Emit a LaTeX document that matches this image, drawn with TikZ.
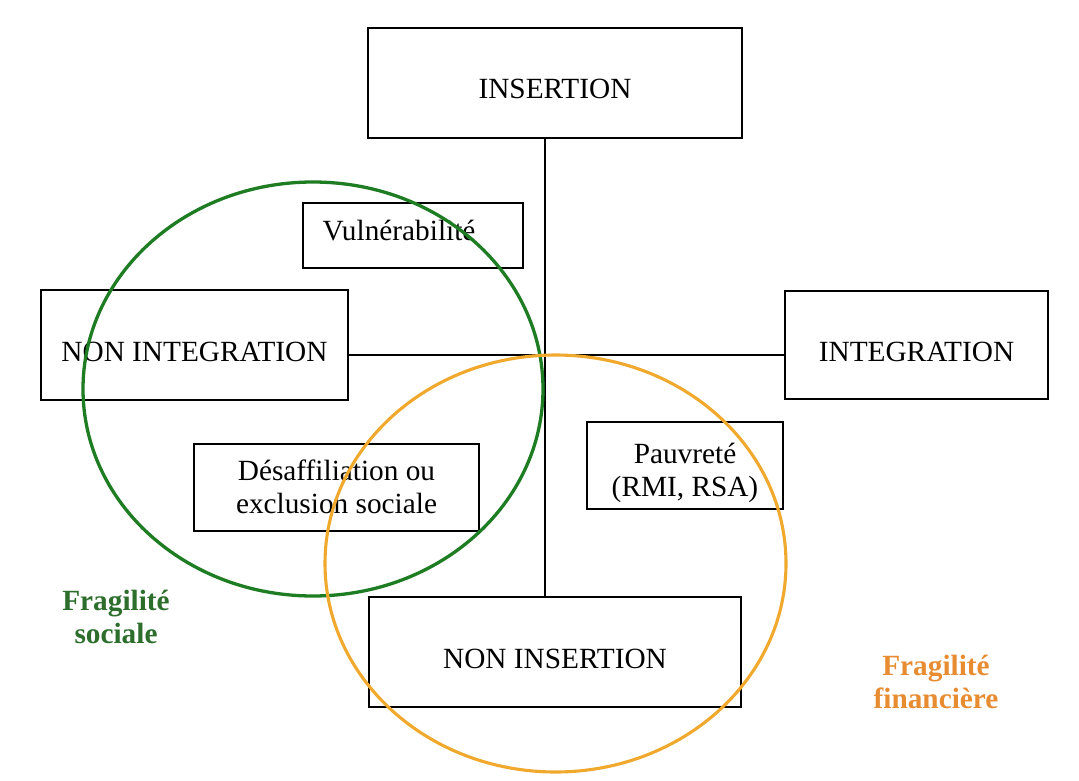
\documentclass[tikz,border=0pt]{standalone}
\usepackage{fontspec}
\setmainfont{Liberation Serif}
\definecolor{circgreen}{RGB}{30,125,35}
\definecolor{txtgreen}{RGB}{45,110,45}
\definecolor{circorange}{RGB}{240,168,45}
\definecolor{txtorange}{RGB}{232,140,50}
\begin{document}
\begin{tikzpicture}[x=1pt,y=-1pt,
  box/.style={draw=black, line width=2.6pt, fill=white, inner sep=0pt,
    font=\fontsize{29.3}{33}\selectfont},
  conn/.style={draw=black, line width=1.8pt},
  fragtxt/.style={inner sep=0pt, anchor=base, font=\fontsize{29.3}{33}\selectfont\bfseries}]
\useasboundingbox (0,0) rectangle (1079,781);
\fill[white] (0,0) rectangle (1079,781);
\coordinate (X) at (545,355);
% boxes
\node[box, minimum width=374pt, minimum height=110pt, text height=31pt, text depth=0pt] (ins) at (555,83) {INSERTION};
\node[box, minimum width=307pt, minimum height=110pt, text height=32pt, text depth=0pt] (nonint) at (194.5,345) {NON INTEGRATION};
\node[box, minimum width=263pt, minimum height=108pt, text height=32pt, text depth=0pt] (int) at (916.5,345) {INTEGRATION};
\node[box, minimum width=372pt, minimum height=110pt, text height=32pt, text depth=0pt] (nonins) at (555,652) {NON INSERTION};
\node[box, minimum width=220pt, minimum height=65pt, text height=9pt, text depth=0pt] (vul) at (413,235.5) {\kern-28pt Vulnérabilité};
\node[box, minimum width=285pt, minimum height=87pt, text height=5pt, text depth=20pt] (des) at (336.5,487.5)
  {\begin{tabular}[t]{@{}c@{}}Désaffiliation ou\\exclusion sociale\end{tabular}};
\node[box, minimum width=196pt, minimum height=87pt, text height=10pt, text depth=15pt] (pauv) at (685,465.5)
  {\begin{tabular}[t]{@{}c@{}}Pauvreté\\(RMI, RSA)\end{tabular}};
% connectors
\draw[conn] (ins.south -| X) -- (nonins.north -| X);
\draw[conn] (nonint.east |- X) -- (int.west |- X);
% ellipses
\draw[circgreen, line width=3.3pt] (313,389) ellipse [x radius=230pt, y radius=207pt];
\draw[circorange, line width=3.1pt] (555.5,563.5) ellipse [x radius=230.5pt, y radius=208.5pt];
% labels
\node[fragtxt, text=txtgreen] (fs) at (116,610) {\begin{tabular}[t]{@{}c@{}}Fragilité\\sociale\end{tabular}};
\node[fragtxt, text=txtorange] (ff) at (936,675) {\begin{tabular}[t]{@{}c@{}}Fragilité\\financière\end{tabular}};
\end{tikzpicture}
\end{document}
